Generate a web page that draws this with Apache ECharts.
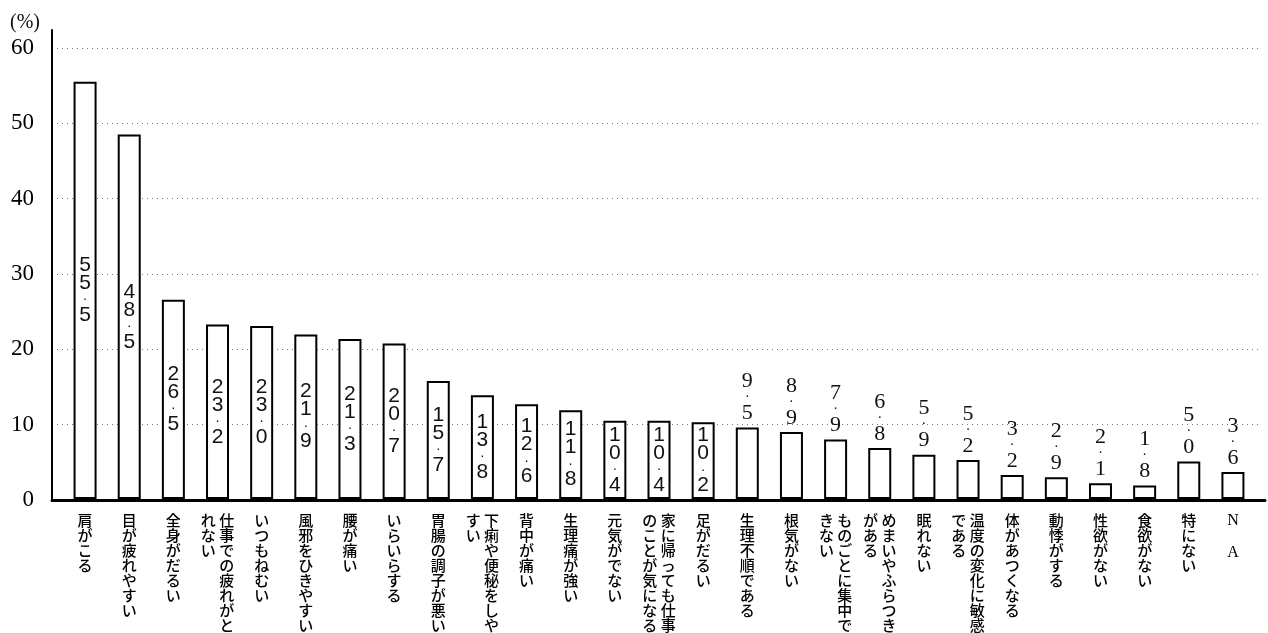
<!DOCTYPE html>
<html>
<head>
<meta charset="utf-8">
<script src="https://cdn.jsdelivr.net/npm/echarts@6/dist/echarts.min.js"></script>
<style>
  html, body { margin: 0; padding: 0; background: #fff; }
  #chart { width: 1268px; height: 633px; }
</style>
</head>
<body>
<div id="chart"></div>
<script>
// Symptoms (multiple answers), percentage of respondents
const categories = [
  '肩がこる', '目が疲れやすい', '全身がだるい', '仕事での疲れがとれない', 'いつもねむい',
  '風邪をひきやすい', '腰が痛い', 'いらいらする', '胃腸の調子が悪い', '下痢や便秘をしやすい',
  '背中が痛い', '生理痛が強い', '元気がでない', '家に帰っても仕事のことが気になる', '足がだるい',
  '生理不順である', '根気がない', 'ものごとに集中できない', 'めまいやふらつきがある', '眠れない',
  '温度の変化に敏感である', '体があつくなる', '動悸がする', '性欲がない', '食欲がない',
  '特にない', 'N A'
];
const values = [
  55.5, 48.5, 26.5, 23.2, 23.0, 21.9, 21.3, 20.7, 15.7, 13.8,
  12.6, 11.8, 10.4, 10.4, 10.2, 9.5, 8.9, 7.9, 6.8, 5.9,
  5.2, 3.2, 2.9, 2.1, 1.8, 5.0, 3.6
];
const yMin = 0;
const yMax = 60;
const yStep = 10;
const unitLabel = '(%)';

const COL_LEN = 8; // characters per vertical column

// Vertical (tategaki) text: first column on the right, following columns to the left
function verticalText(text) {
  const chars = Array.from(text);
  const cols = [];
  for (let i = 0; i < chars.length; i += COL_LEN) cols.push(chars.slice(i, i + COL_LEN));
  const rows = cols[0].length;
  const lines = [];
  for (let r = 0; r < rows; r++) {
    const parts = [];
    for (let c = cols.length - 1; c >= 0; c--) {
      const ch = cols[c][r] || '\u3000';
      parts.push(/[A-Za-z]/.test(ch) ? '{en|' + ch + '}' : (ch === ' ' ? '{en|\u3000}' : ch));
    }
    lines.push(parts.join(' '));
  }
  return lines.join('\n');
}

// Value written downward: digits stacked with a small dot for the decimal point
function verticalValue(v, style) {
  const s = v.toFixed(1);
  const out = [];
  for (const ch of s) {
    out.push(ch === '.' ? '{' + style + 'd|·}' : '{' + style + '|' + ch + '}');
  }
  return out.join('\n');
}

const barData = values.map(function (v) {
  const inside = v >= 10;
  return {
    value: v,
    label: {
      show: true,
      position: inside ? 'inside' : 'top',
      distance: 5,
      formatter: verticalValue(v, inside ? 'in' : 'out')
    }
  };
});

const chart = echarts.init(document.getElementById('chart'), null, { renderer: 'canvas' });

const TOP = 48, BOTTOM = 133;

chart.setOption({
  animation: false,
  backgroundColor: '#ffffff',
  title: {
    text: unitLabel,
    left: 5,
    top: 8,
    textStyle: { fontFamily: 'Liberation Serif', fontSize: 20, fontWeight: 'normal', color: '#111' }
  },
  grid: [
    // frame: axis lines
    { left: 52, right: 3, top: 30, bottom: BOTTOM },
    // value scale with dotted guides
    { left: 52, right: 10, top: TOP, bottom: BOTTOM },
    // bars
    { left: 63, right: 13, top: TOP, bottom: BOTTOM }
  ],
  xAxis: [
    {
      gridIndex: 0, type: 'value', min: 0, max: 1, z: 5,
      axisLine: { show: true, lineStyle: { color: '#000', width: 3 } },
      axisTick: { show: false }, axisLabel: { show: false }, splitLine: { show: false }
    },
    {
      gridIndex: 1, type: 'value', min: 0, max: 1, show: false
    },
    {
      gridIndex: 2, type: 'category', data: categories,
      axisLine: { show: false }, axisTick: { show: false },
      axisLabel: {
        interval: 0,
        margin: 14,
        color: '#000',
        fontFamily: 'Noto Sans CJK JP',
        fontWeight: 500,
        fontSize: 15,
        lineHeight: 15,
        align: 'center',
        verticalAlign: 'top',
        formatter: verticalText,
        rich: {
          en: { fontFamily: 'Liberation Serif', fontSize: 16, lineHeight: 16, color: '#000' }
        }
      }
    }
  ],
  yAxis: [
    {
      gridIndex: 0, type: 'value', min: 0, max: 1, z: 5,
      axisLine: { show: true, lineStyle: { color: '#000', width: 2 } },
      axisTick: { show: false }, axisLabel: { show: false }, splitLine: { show: false }
    },
    {
      gridIndex: 1, type: 'value', min: yMin, max: yMax, interval: yStep,
      axisLine: { show: false }, axisTick: { show: false },
      axisLabel: {
        margin: 18,
        color: '#000',
        fontFamily: 'Liberation Serif',
        fontSize: 23
      },
      splitLine: { show: true, lineStyle: { color: '#777', width: 1, type: [1, 4] } }
    },
    {
      gridIndex: 2, type: 'value', min: yMin, max: yMax, interval: yStep, show: false,
      splitLine: { show: false }
    }
  ],
  series: [
    {
      type: 'bar',
      xAxisIndex: 2,
      yAxisIndex: 2,
      data: barData,
      barWidth: 23,
      itemStyle: { color: '#ffffff', borderColor: '#000', borderWidth: 2 },
      label: {
        show: true,
        color: '#111',
        rich: {
          'in': { fontFamily: 'Liberation Sans Narrow, Liberation Sans', fontSize: 21, lineHeight: 18, color: '#111', align: 'center' },
          'ind': { fontFamily: 'Liberation Sans', fontSize: 14, lineHeight: 14, color: '#111', align: 'center' },
          'out': { fontFamily: 'Liberation Serif', fontSize: 22, lineHeight: 18, color: '#111', align: 'center' },
          'outd': { fontFamily: 'Liberation Serif', fontSize: 14, lineHeight: 14, color: '#111', align: 'center' }
        }
      }
    }
  ]
});
</script>
</body>
</html>
